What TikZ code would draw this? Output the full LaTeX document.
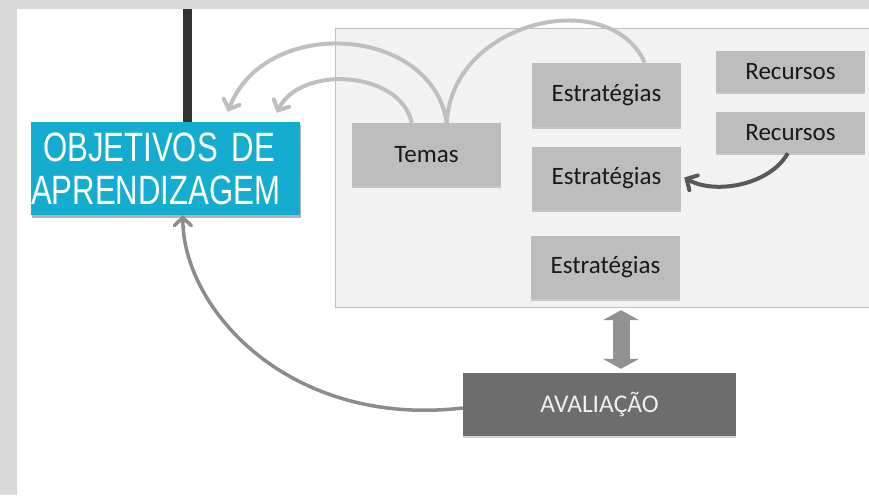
\documentclass[tikz,border=0pt]{standalone}
\usepackage{fontspec}
\setmainfont{Carlito}
\newfontfamily\condfont[FakeStretch=0.76]{Liberation Sans}
\usetikzlibrary{arrows.meta,shadows,calc}
\definecolor{bgray}{HTML}{D9D9D9}
\definecolor{panelfill}{HTML}{F2F2F2}
\definecolor{panelline}{HTML}{BFBFBF}
\definecolor{boxfill}{HTML}{BDBDBD}
\definecolor{arcgray}{HTML}{BFBFBF}
\definecolor{midgray}{HTML}{8C8C8C}
\definecolor{darkarrow}{HTML}{595959}
\definecolor{avalfill}{HTML}{6D6D6D}
\definecolor{objblue}{HTML}{15ADCF}
\definecolor{barcol}{HTML}{333333}
\tikzset{
  shad/.style={drop shadow={shadow xshift=0pt,shadow yshift=-1.5pt,opacity=0.18,fill=black}},
  graybox/.style={shad,fill=boxfill,draw=none,minimum width=149pt,inner sep=0pt,
    font=\fontsize{25}{28}\selectfont,text=black!90},
  arcline/.style={draw=arcgray,line width=4pt},
  arctip/.style={-{Straight Barb[length=8pt,width=17pt,line cap=round]}},
}
\begin{document}
\begin{tikzpicture}[x=1pt,y=-1pt]
\useasboundingbox (0,0) rectangle (869,495);
\fill[bgray] (0,0) rectangle (869,495);
\fill[white] (17,9) rectangle (869,495);
% panel
\node[fill=panelfill,draw=panelline,line width=1.2pt,minimum width=545pt,minimum height=279pt,inner sep=0pt,anchor=north west] (panel) at (335,28) {};
% boxes
\node[graybox,minimum height=63pt] (temas) at (426.5,154.5) {Temas};
\node[graybox,minimum height=64pt] (e1) at (606.5,95) {Estratégias};
\node[graybox,minimum height=63pt] (e2) at (606.5,178.5) {Estratégias};
\node[graybox,minimum height=63pt] (e3) at (605.5,267.5) {Estratégias};
\node[graybox,minimum height=41pt] (r1) at (790.5,71.5) {Recursos};
\node[graybox,minimum height=41pt] (r2) at (790.5,132.5) {Recursos};
\node[shad,fill=avalfill,minimum width=273pt,minimum height=63pt,inner sep=0pt,
  font=\fontsize{25.5}{28}\selectfont,text=white!94!black] (aval) at (599.5,404.5) {AVALIAÇÃO};
% vertical bar
\coordinate (bartop) at (187,9);
% objetivos box
\node[drop shadow={shadow xshift=1pt,shadow yshift=-3pt,opacity=0.3,fill=black},fill=objblue,
  minimum width=269pt,minimum height=93pt,text width=269pt,inner sep=0pt,align=left,
  text=white,font=\condfont\fontsize{41}{44}\selectfont] (obj) at (165.5,168.5)
  {\hspace*{12pt}OBJETIVOS DE\\[-1pt]APRENDIZAGEM};
\draw[barcol,line width=9pt] (bartop) -- (bartop |- obj.north);
% arcs
\coordinate (t1) at ($(temas.north west)+(60,0)$);
\coordinate (t2) at ($(temas.north west)+(95,0)$);
\coordinate (e1t) at ($(e1.north west)+(113,0)$);
\coordinate (o1) at ($(obj.north west)+(197,-10)$);
\coordinate (o2) at ($(obj.north west)+(246,-9)$);
\draw[arcline,arctip] (t2) .. controls (432,25) and (265,15) .. (o1);
\draw[arcline,arctip] (t1) .. controls (400,70) and (300,65) .. (o2);
\draw[arcline] (t2) .. controls (452,20) and (610,-15) .. (e1t);
% recursos -> estrategias
\coordinate (r2b) at ($(r2.south west)+(72,0)$);
\draw[darkarrow,line width=4pt,-{Straight Barb[length=8pt,width=17pt,line cap=round]}]
  (r2b) .. controls (770,185) and (715,195) .. ($(e2.east)+(3,-1)$);
% avaliacao -> objetivos
\coordinate (ob) at ($(obj.south west)+(152,0)$);
\draw[midgray,line width=3.5pt,-{Straight Barb[length=8pt,width=17pt,line cap=round]}]
  ($(aval.west)+(0,3.5)$) .. controls (290,428) and (183,310) .. (ob);
% double arrow
\coordinate (dx) at (621,0);
\draw[draw=midgray!95!white,line width=17pt,{Triangle[length=10pt,width=36pt]}-{Triangle[length=10pt,width=36pt]}]
  ($(panel.south -| dx)+(0,2)$) -- ($(aval.north -| dx)+(0,-4)$);
\end{tikzpicture}
\end{document}
